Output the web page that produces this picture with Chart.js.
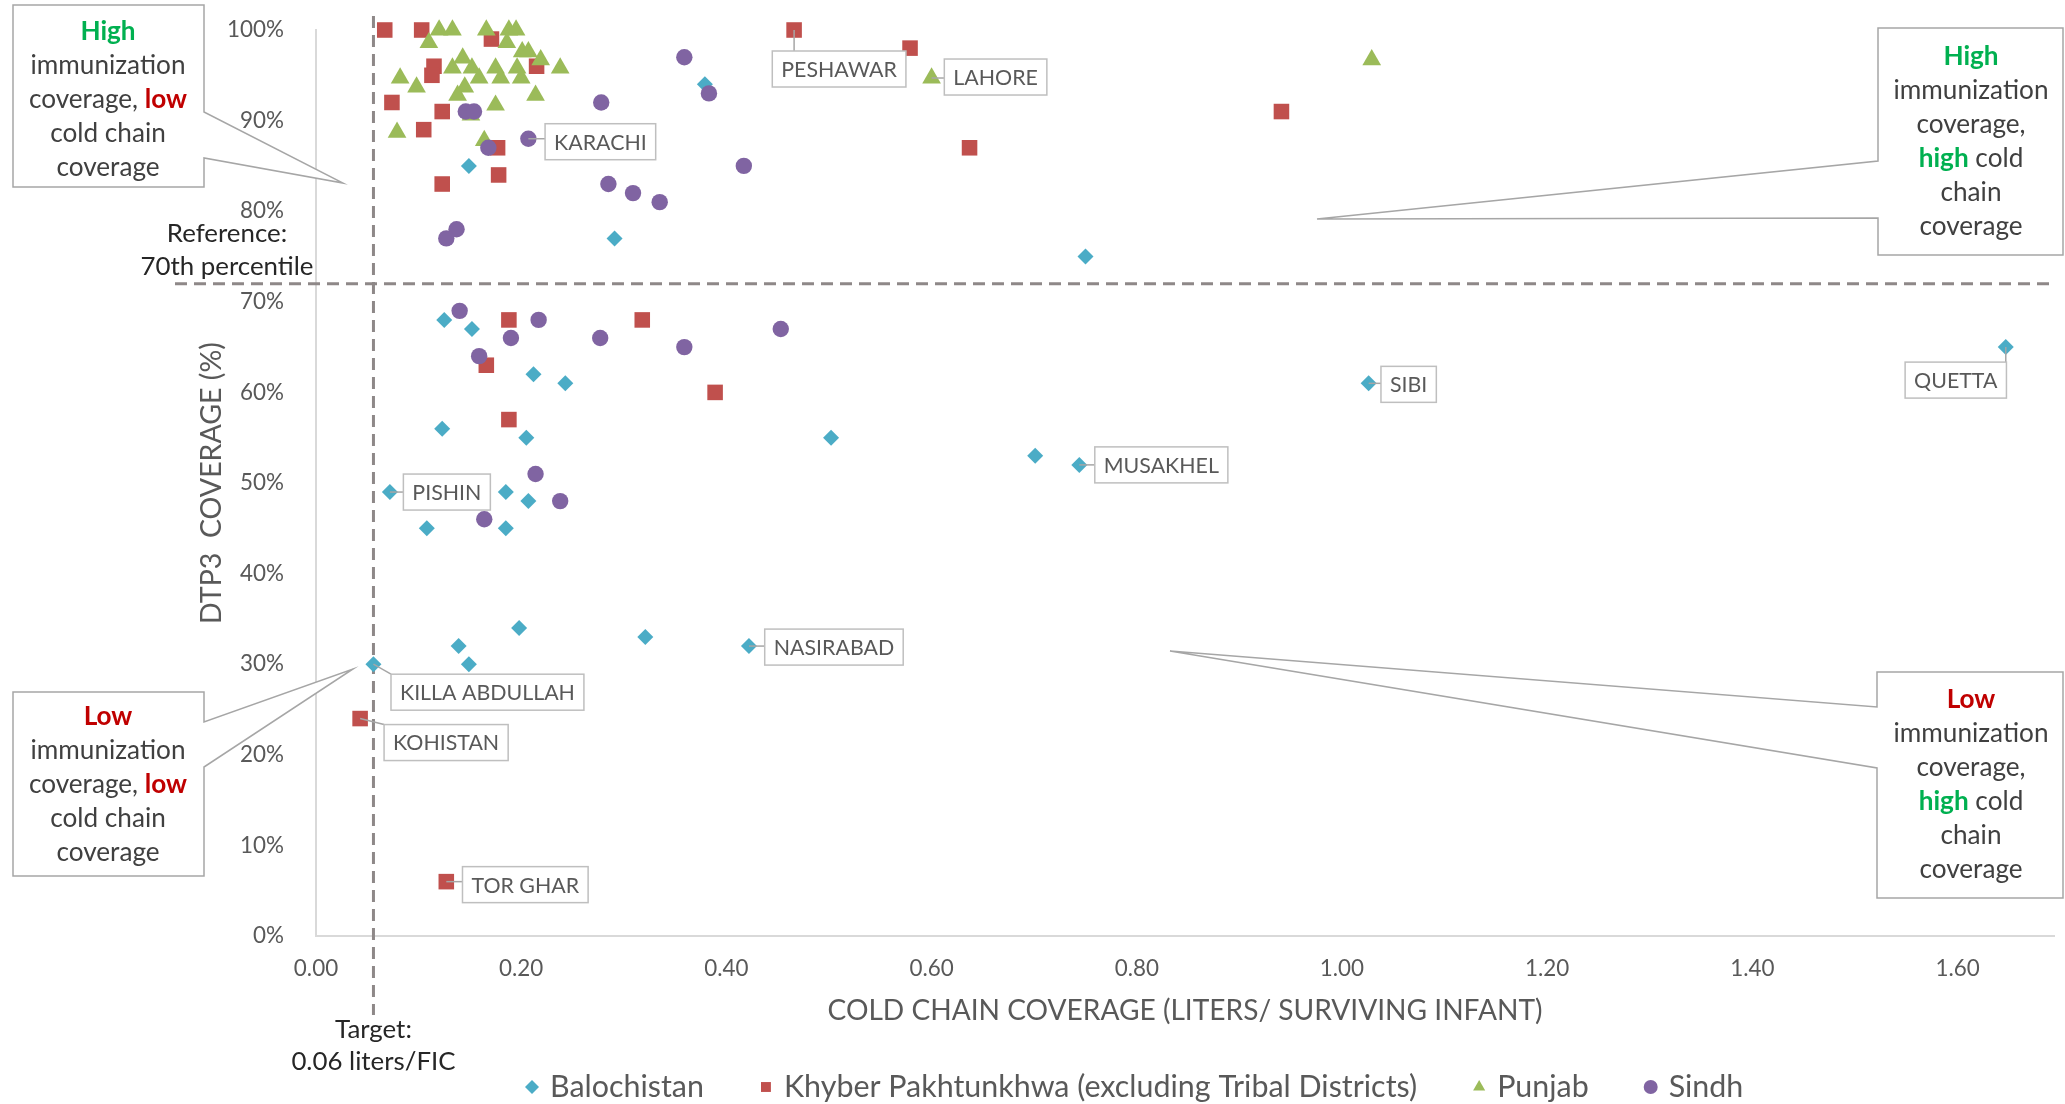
<!DOCTYPE html>
<html>
<head>
<meta charset="utf-8">
<title>Cold chain coverage vs DTP3 coverage</title>
<script src="https://cdn.jsdelivr.net/npm/chart.js@4.4.1/dist/chart.umd.min.js"></script>
<style>
html,body{margin:0;padding:0;background:#ffffff;overflow:hidden;}
#wrap{position:relative;width:2065px;height:1104px;}
</style>
</head>
<body>
<div id="wrap"><canvas id="chart" width="2065" height="1104"></canvas></div>
<script>
// ---------------- data ----------------
const seriesNames = ['Balochistan', 'Khyber Pakhtunkhwa (excluding Tribal Districts)', 'Punjab', 'Sindh'];
const xTickValues = [0, 0.2, 0.4, 0.6, 0.8, 1.0, 1.2, 1.4, 1.6];
const yTickValues = [0, 10, 20, 30, 40, 50, 60, 70, 80, 90, 100];
const xAxisTitle = 'COLD CHAIN COVERAGE (LITERS/ SURVIVING INFANT)';
const yAxisTitle = 'DTP3  COVERAGE (%)';

const balochistanX = [0.379, 0.149, 0.291, 0.750, 0.125, 0.152, 0.212, 0.243, 0.123, 0.205, 0.502, 0.072, 0.185, 0.207, 0.108, 0.185, 0.198, 0.321, 0.139, 0.422, 0.056, 0.149, 1.026, 0.744, 0.701, 1.647];
const balochistanY = [94, 85, 77, 75, 68, 67, 62, 61, 56, 55, 55, 49, 49, 48, 45, 45, 34, 33, 32, 32, 30, 30, 61, 52, 53, 65];
const balochistanLabels = ['', '', '', '', '', '', '', '', '', '', '', 'PISHIN', '', '', '', '', '', '', '', 'NASIRABAD', 'KILLA ABDULLAH', '', 'SIBI', 'MUSAKHEL', '', 'QUETTA'];

const kpX = [0.067, 0.103, 0.171, 0.115, 0.113, 0.215, 0.074, 0.123, 0.105, 0.177, 0.178, 0.123, 0.466, 0.579, 0.637, 0.941, 0.188, 0.318, 0.166, 0.389, 0.188, 0.043, 0.127];
const kpY = [100, 100, 99, 96, 95, 96, 92, 91, 89, 87, 84, 83, 100, 98, 87, 91, 68, 68, 63, 60, 57, 24, 6];
const kpLabels = ['', '', '', '', '', '', '', '', '', '', '', '', 'PESHAWAR', '', '', '', '', '', '', '', '', 'KOHISTAN', 'TOR GHAR'];

const punjabX = [0.120, 0.133, 0.166, 0.188, 0.195, 0.110, 0.186, 0.201, 0.207, 0.219, 0.143, 0.133, 0.152, 0.175, 0.196, 0.238, 0.082, 0.159, 0.180, 0.200, 0.098, 0.145, 0.138, 0.214, 0.175, 0.151, 0.079, 0.164, 0.600, 1.029];
const punjabY = [100, 100, 100, 100, 100, 98.6, 98.6, 97.6, 97.6, 96.7, 96.9, 95.8, 95.8, 95.8, 95.8, 95.8, 94.7, 94.7, 94.7, 94.7, 93.7, 93.7, 92.8, 92.8, 91.7, 90.6, 88.7, 87.8, 94.7, 96.7];
const punjabLabels = ['', '', '', '', '', '', '', '', '', '', '', '', '', '', '', '', '', '', '', '', '', '', '', '', '', '', '', '', 'LAHORE', ''];

const sindhX = [0.359, 0.383, 0.278, 0.146, 0.154, 0.207, 0.168, 0.417, 0.285, 0.309, 0.335, 0.137, 0.127, 0.140, 0.217, 0.453, 0.190, 0.277, 0.359, 0.159, 0.214, 0.238, 0.164];
const sindhY = [97, 93, 92, 91, 91, 88, 87, 85, 83, 82, 81, 78, 77, 69, 68, 67, 66, 66, 65, 64, 51, 48, 46];
const sindhLabels = ['', '', '', '', '', 'KARACHI', '', '', '', '', '', '', '', '', '', '', '', '', '', '', '', '', ''];

const targetColdChain = 0.056;      // "Target: 0.06 liters/FIC"
const referencePercentile = 72;     // "Reference: 70th percentile"
const xAxisMax = 1.694;             // visible extent of the cropped x axis

// ---------------- styles ----------------
const FONT = 'Lato, "Open Sans", sans-serif';
const mctx = document.createElement('canvas').getContext('2d');
function fitSize(text, target, weight) {
  mctx.font = (weight || 'normal') + ' 100px ' + FONT;
  return 100 * target / mctx.measureText(text).width;
}
const fsTick = fitSize('100%', 57);
const fsTitleX = fitSize(xAxisTitle, 715);
const fsTitleY = fitSize(yAxisTitle, 282);
const fsLegend = fitSize('Balochistan', 154);
const fsCallout = fitSize('KILLA ABDULLAH', 175);
const fsQuad = fitSize('immunization', 155);
const fsNote = fitSize('70th percentile', 173);

const colors = ['#4BACC6', '#C0504D', '#9BBB59', '#8064A2'];
const pointStyles = ['rectRot', 'rect', 'triangle', 'circle'];
const pointRadii = [8, 11, 10.8, 8.2];
const TXT = '#595959';
const GREEN = '#00B050';
const RED = '#C00000';
const DARK = '#404040';

function zip(xs, ys) { return xs.map((x, i) => ({ x: x, y: ys[i] })); }
const allX = [balochistanX, kpX, punjabX, sindhX];
const allY = [balochistanY, kpY, punjabY, sindhY];
const allLabels = [balochistanLabels, kpLabels, punjabLabels, sindhLabels];

const datasets = seriesNames.map((name, i) => ({
  label: name,
  data: zip(allX[i], allY[i]),
  pointLabels: allLabels[i],
  pointStyle: pointStyles[i],
  radius: pointRadii[i],
  backgroundColor: colors[i],
  borderColor: colors[i],
  borderWidth: 0,
  showLine: false,
  clip: false,
  order: 3 - i
}));

// ---------------- plugins ----------------
const calloutOffsets = {
  'KARACHI': [72, 3], 'PESHAWAR': [45, 39], 'LAHORE': [64, -1], 'PISHIN': [57, 0],
  'SIBI': [40, 1], 'QUETTA': [-50, 33], 'MUSAKHEL': [82, 0], 'NASIRABAD': [85, 1],
  'KILLA ABDULLAH': [114, 28], 'KOHISTAN': [86, 24], 'TOR GHAR': [79, 3]
};

const refLinesPlugin = {
  id: 'refLines',
  beforeDatasetsDraw(chart) {
    const ctx = chart.ctx, xs = chart.scales.x, ys = chart.scales.y, area = chart.chartArea;
    ctx.save();
    ctx.strokeStyle = '#8E8888';
    ctx.lineWidth = 3;
    ctx.setLineDash([12, 7]);
    const yRef = ys.getPixelForValue(referencePercentile);
    ctx.beginPath(); ctx.moveTo(175, yRef); ctx.lineTo(area.right, yRef); ctx.stroke();
    const xRef = xs.getPixelForValue(targetColdChain);
    ctx.beginPath(); ctx.moveTo(xRef, 16); ctx.lineTo(xRef, 1015); ctx.stroke();
    ctx.restore();
  },
  afterDraw(chart) {
    const ctx = chart.ctx, xs = chart.scales.x, ys = chart.scales.y;
    const yRef = ys.getPixelForValue(referencePercentile);
    const xRef = xs.getPixelForValue(targetColdChain);
    ctx.save();
    ctx.fillStyle = '#262626';
    ctx.font = 'normal ' + fsNote + 'px ' + FONT;
    ctx.textAlign = 'center'; ctx.textBaseline = 'middle';
    ctx.fillText('Reference:', 227, yRef - 50);
    ctx.fillText('70th percentile', 227, yRef - 17);
    ctx.fillText('Target:', xRef, 1030);
    ctx.fillText('0.06 liters/FIC', xRef, 1062);
    ctx.restore();
  }
};

const calloutPlugin = {
  id: 'callouts',
  afterDatasetsDraw(chart) {
    const ctx = chart.ctx;
    ctx.save();
    ctx.font = 'normal ' + fsCallout + 'px ' + FONT;
    chart.data.datasets.forEach((ds, di) => {
      const meta = chart.getDatasetMeta(di);
      ds.pointLabels.forEach((lab, i) => {
        if (!lab) return;
        const el = meta.data[i];
        const off = calloutOffsets[lab] || [60, 0];
        const tw = ctx.measureText(lab).width;
        const w = tw + 18, h = 36;
        const cx = el.x + off[0], cy = el.y + off[1];
        const bx = cx - w / 2, by = cy - h / 2;
        const nx = Math.max(bx, Math.min(el.x, bx + w));
        const ny = Math.max(by, Math.min(el.y, by + h));
        ctx.strokeStyle = '#A6A6A6'; ctx.lineWidth = 1.5;
        ctx.beginPath(); ctx.moveTo(el.x, el.y); ctx.lineTo(nx, ny); ctx.stroke();
        ctx.fillStyle = '#FFFFFF';
        ctx.fillRect(bx, by, w, h);
        ctx.strokeStyle = '#BFBFBF';
        ctx.strokeRect(bx, by, w, h);
        ctx.fillStyle = TXT; ctx.textAlign = 'center'; ctx.textBaseline = 'middle';
        ctx.fillText(lab, cx, cy + 1);
      });
    });
    ctx.restore();
  }
};

const quadrants = [
  { box: [13, 5, 204, 187], side: 'right', tail: [112, 343, 183, 158], cx: 108, y0: 32,
    lines: [[['High', GREEN, 1]], [['immunization']], [['coverage, '], ['low', RED, 1]], [['cold chain']], [['coverage']]] },
  { box: [1878, 28, 2063, 255], side: 'left', tail: [161, 1317, 219, 218], cx: 1971, y0: 57,
    lines: [[['High', GREEN, 1]], [['immunization']], [['coverage,']], [['high', GREEN, 1], [' cold']], [['chain']], [['coverage']]] },
  { box: [13, 692, 204, 876], side: 'right', tail: [722, 353, 669, 767], cx: 108, y0: 717,
    lines: [[['Low', RED, 1]], [['immunization']], [['coverage, '], ['low', RED, 1]], [['cold chain']], [['coverage']]] },
  { box: [1877, 672, 2063, 898], side: 'left', tail: [707, 1170, 651, 768], cx: 1971, y0: 700,
    lines: [[['Low', RED, 1]], [['immunization']], [['coverage,']], [['high', GREEN, 1], [' cold']], [['chain']], [['coverage']]] }
];

const quadrantPlugin = {
  id: 'quadrants',
  afterDraw(chart) {
    const ctx = chart.ctx;
    ctx.save();
    quadrants.forEach(q => {
      const [l, t, r, b] = q.box;
      const [ty1, tipX, tipY, ty2] = q.tail;
      ctx.beginPath();
      if (q.side === 'right') {
        ctx.moveTo(l, t); ctx.lineTo(r, t); ctx.lineTo(r, ty1); ctx.lineTo(tipX, tipY);
        ctx.lineTo(r, ty2); ctx.lineTo(r, b); ctx.lineTo(l, b); ctx.closePath();
      } else {
        ctx.moveTo(l, t); ctx.lineTo(r, t); ctx.lineTo(r, b); ctx.lineTo(l, b);
        ctx.lineTo(l, ty2); ctx.lineTo(tipX, tipY); ctx.lineTo(l, ty1); ctx.closePath();
      }
      ctx.fillStyle = '#FFFFFF'; ctx.fill();
      ctx.strokeStyle = '#A6A6A6'; ctx.lineWidth = 1.5; ctx.stroke();
      ctx.textBaseline = 'middle'; ctx.textAlign = 'left';
      q.lines.forEach((segs, li) => {
        const y = q.y0 + li * 34;
        let total = 0;
        const widths = segs.map(s => {
          ctx.font = (s[2] ? 'bold ' : 'normal ') + fsQuad + 'px ' + FONT;
          const w = ctx.measureText(s[0]).width; total += w; return w;
        });
        let x = q.cx - total / 2;
        segs.forEach((s, si) => {
          ctx.font = (s[2] ? 'bold ' : 'normal ') + fsQuad + 'px ' + FONT;
          ctx.fillStyle = s[1] || DARK;
          ctx.fillText(s[0], x, y);
          x += widths[si];
        });
      });
    });
    ctx.restore();
  }
};

const legendPlugin = {
  id: 'customLegend',
  afterDraw(chart) {
    const ctx = chart.ctx;
    ctx.save();
    ctx.font = 'normal ' + fsLegend + 'px ' + FONT;
    ctx.textBaseline = 'middle'; ctx.textAlign = 'left';
    let x = 532; const y = 1087;
    chart.data.datasets.forEach((ds, i) => {
      ctx.fillStyle = ds.backgroundColor;
      Chart.helpers.drawPoint(ctx, { pointStyle: ds.pointStyle, radius: 7, rotation: 0, borderWidth: 0 }, x, y);
      ctx.fillStyle = TXT;
      const tx = x + 18;
      ctx.fillText(ds.label, tx, y);
      x = tx + ctx.measureText(ds.label).width + 62;
    });
    ctx.restore();
  }
};

// ---------------- chart ----------------
new Chart(document.getElementById('chart'), {
  type: 'scatter',
  data: { datasets: datasets },
  options: {
    responsive: false,
    animation: false,
    events: [],
    layout: { padding: { left: 195, right: 0, top: 30, bottom: 68 } },
    plugins: { legend: { display: false }, tooltip: { enabled: false } },
    scales: {
      x: {
        type: 'linear', min: 0, max: xAxisMax,
        afterBuildTicks: s => { s.ticks = xTickValues.map(v => ({ value: v })); },
        afterFit: s => { s.height = 100; s.paddingLeft = 0; s.paddingRight = 0; },
        grid: { display: false },
        border: { display: true, color: '#D9D9D9', width: 2 },
        ticks: { padding: 11, color: TXT, font: { family: FONT, size: fsTick }, maxRotation: 0, autoSkip: false,
                 callback: v => Number(v).toFixed(2) },
        title: { display: true, text: xAxisTitle, color: TXT, font: { family: FONT, size: fsTitleX }, padding: { top: 0, bottom: 8 } }
      },
      y: {
        type: 'linear', min: 0, max: 100,
        afterBuildTicks: s => { s.ticks = yTickValues.map(v => ({ value: v })); },
        afterFit: s => { s.width = 121; s.paddingTop = 0; s.paddingBottom = 0; },
        grid: { display: false },
        border: { display: true, color: '#D9D9D9', width: 2 },
        ticks: { padding: 24, color: TXT, font: { family: FONT, size: fsTick }, callback: v => v + '%' },
        title: { display: true, text: yAxisTitle, color: TXT, font: { family: FONT, size: fsTitleY }, padding: { top: 0, bottom: 0 } }
      }
    }
  },
  plugins: [refLinesPlugin, calloutPlugin, quadrantPlugin, legendPlugin]
});
</script>
</body>
</html>
